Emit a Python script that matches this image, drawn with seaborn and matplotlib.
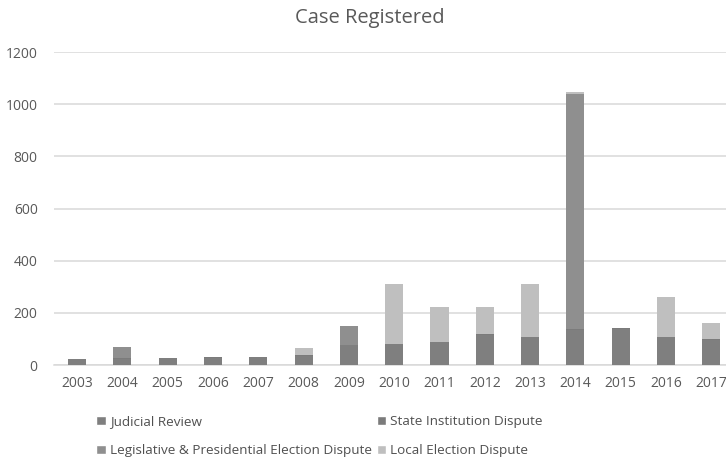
import numpy as np
import pandas as pd
import seaborn as sns
import matplotlib
matplotlib.use("Agg")
import matplotlib.pyplot as plt
from matplotlib.patches import Patch

years = ["2003", "2004", "2005", "2006", "2007", "2008", "2009", "2010",
         "2011", "2012", "2013", "2014", "2015", "2016", "2017"]
judicial_review = [23, 24, 25, 28, 31, 36, 75, 79, 87, 116, 107, 135, 139, 106, 97]
state_institution = [0, 2, 1, 2, 1, 2, 2, 2, 2, 3, 2, 3, 2, 2, 3]
legislative_presidential = [0, 44, 0, 0, 0, 0, 73, 0, 0, 0, 0, 901, 0, 0, 0]
local_election = [0, 0, 0, 0, 0, 26, 0, 228, 133, 103, 200, 9, 0, 151, 60]

series_names = ["Judicial Review", "State Institution Dispute",
                "Legislative & Presidential Election Dispute", "Local Election Dispute"]
series_colors = ["#7f7f7f", "#7b7b7b", "#8f8f8f", "#bfbfbf"]

sns.set_theme(style="white")
plt.rcParams["font.family"] = ["Open Sans", "DejaVu Sans"]

df = pd.DataFrame({
    "year": years,
    "jr": judicial_review,
    "si": state_institution,
    "lp": legislative_presidential,
    "le": local_election,
})
cols = ["jr", "si", "lp", "le"]
cum = df[cols].cumsum(axis=1)

fig = plt.figure(figsize=(7.26, 4.61), dpi=100)
ax = fig.add_axes([54.4 / 726, 96 / 461, (734 - 54.4) / 726, (365 - 52.2) / 461])

for i in range(3, -1, -1):
    sns.barplot(x=df["year"], y=cum[cols[i]], color=series_colors[i], width=0.4,
                saturation=1, linewidth=0, ax=ax, zorder=3)

ax.set_ylim(0, 1200)
ax.set_yticks(range(0, 1201, 200))
ax.yaxis.grid(True, color="#d9d9d9", linewidth=1.1, zorder=0)
ax.set_axisbelow(True)
for s in ["top", "right", "left"]:
    ax.spines[s].set_visible(False)
ax.spines["bottom"].set_color("#d9d9d9")
ax.spines["bottom"].set_linewidth(1.1)
ax.set_xlabel("")
ax.set_ylabel("")
ax.tick_params(axis="both", length=0, labelsize=10, labelcolor="#595959")
ax.tick_params(axis="y", pad=12)
ax.tick_params(axis="x", pad=8)

fig.text(0.51, 0.962, "Case Registered", ha="center", va="center",
         fontsize=14.5, color="#595959")

handles = [Patch(facecolor=series_colors[k]) for k in [0, 2, 1, 3]]
labels = [series_names[k] for k in [0, 2, 1, 3]]
leg = fig.legend(handles, labels, ncol=2, loc="upper left",
                 bbox_to_anchor=(84 / 726, 1 - 403 / 461), frameon=False,
                 fontsize=9.7, labelcolor="#505050", handlelength=0.7,
                 handleheight=0.7, handletextpad=0.3, columnspacing=0.4,
                 labelspacing=1.2)

fig.savefig("out.png", dpi=100, facecolor="white")
